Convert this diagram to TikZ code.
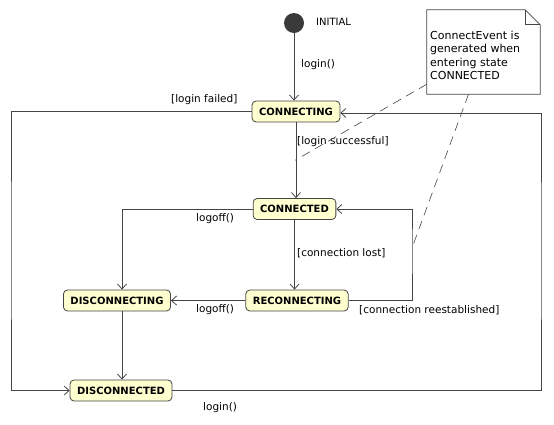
\documentclass[tikz,border=0pt]{standalone}
\usepackage{fontspec}
\setmainfont{DejaVu Sans}
\usetikzlibrary{arrows.meta,calc}
\definecolor{statefill}{HTML}{FEFECE}
\definecolor{lineclr}{HTML}{454545}
\definecolor{initclr}{HTML}{3A3A3A}
\begin{document}
\begin{tikzpicture}[x=1pt,y=-1pt,
  state/.style={draw=lineclr, fill=statefill, rounded corners=4pt, minimum height=21pt,
    inner xsep=7pt, inner ysep=0pt, font=\fontsize{10}{12}\selectfont\bfseries, line width=0.8pt},
  lbl/.style={font=\fontsize{10.5}{12}\selectfont, inner sep=0pt, anchor=west, text=black},
  trans/.style={draw=lineclr, line width=0.8pt, -{Straight Barb[length=5pt,width=9pt]}},
  notelink/.style={draw=lineclr, dash pattern=on 9pt off 6pt, line width=0.6pt},
  noteshape/.style={draw=none, minimum width=113pt, minimum height=84pt, inner sep=0pt}]
\useasboundingbox (0,0) rectangle (554,424);

% states
\node[circle, fill=initclr, minimum size=20pt, inner sep=0pt] (init) at (294,23) {};
\node[state] (connecting) at (296,111.5) {CONNECTING};
\node[state] (connected) at (294.5,209) {CONNECTED};
\node[state] (reconnecting) at (297,300.5) {RECONNECTING};
\node[state] (disconnecting) at (117,300.5) {DISCONNECTING};
\node[state] (disconnected) at (121,390.5) {DISCONNECTED};

% routing coordinates
\coordinate (lx) at (11,250);
\coordinate (rx) at (541,250);
\coordinate (rcx) at (412,248);
\coordinate (dx) at (122,250);

% transitions
\draw[trans] (init.south) -- (init.south |- connecting.north);
\draw[trans] (connecting.west) -| (lx) |- (disconnected.west);
\draw[trans] (disconnected.east) -| (rx) |- ([yshift=-1.5pt]connecting.east);
\draw[trans] (connecting.south) -- (connecting.south |- connected.north);
\draw[trans] (connected.south) -- (connected.south |- reconnecting.north);
\draw[trans] (reconnecting.east) -| (rcx) |- (connected.east);
\draw[trans] (connected.west) -| (dx |- disconnecting.north);
\draw[trans] (reconnecting.west) -- (reconnecting.west -| disconnecting.east);
\draw[trans] (dx |- disconnecting.south) -- (dx |- disconnected.north);

% labels
\node[lbl, font=\fontsize{10}{12}\selectfont] (tinit) at (316,22) {INITIAL};
\node[lbl] (l1) at (301,65) {login()};
\node[lbl] (l2) at (171,100) {[login failed]};
\node[lbl] (l3) at (297,142) {[login successful]};
\node[lbl] (l4) at (196,219) {logoff()};
\node[lbl] (l5) at (297,253) {[connection lost]};
\node[lbl] (l6) at (196,310) {logoff()};
\node[lbl] (l7) at (359,310) {[connection reestablished]};
\node[lbl] (l8) at (203,408) {login()};

% note
\node[noteshape] (note) at (483.5,52) {};
\draw[lineclr, fill=white, line width=0.7pt]
  (note.north west) -- ([xshift=-15pt]note.north east) -- ([yshift=-15pt]note.north east)
  -- (note.south east) -- (note.south west) -- cycle;
\draw[lineclr, line width=0.7pt]
  ([xshift=-15pt]note.north east) -- ([xshift=-15pt,yshift=-15pt]note.north east)
  -- ([yshift=-15pt]note.north east);
\node[anchor=north west, align=left, inner sep=0pt, font=\fontsize{11}{13.5}\selectfont]
  (notetext) at (430,30.5) {ConnectEvent is\\generated when\\entering state\\CONNECTED};

% note links
\coordinate (m1) at ($(connecting.south)!0.5!(connected.north)$);
\draw[notelink] ([yshift=10pt]note.south west) -- (m1);
\draw[notelink] ([xshift=-15pt]note.south) -- (rcx);
\end{tikzpicture}
\end{document}
